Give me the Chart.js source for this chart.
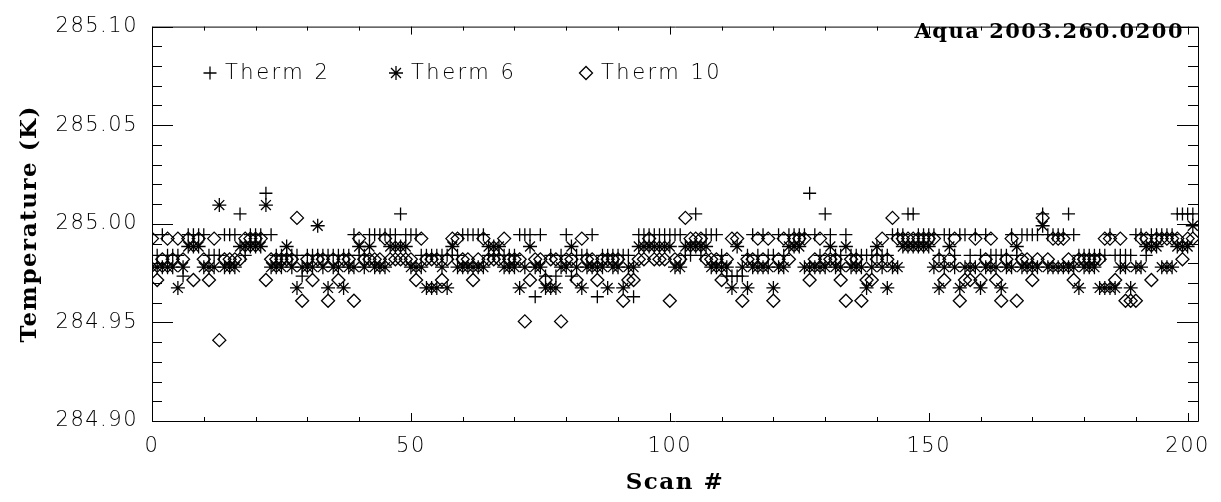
<!DOCTYPE html>
<html>
<head>
<meta charset="utf-8">
<script src="https://cdn.jsdelivr.net/npm/chart.js"></script>
<style>
  html, body { margin: 0; padding: 0; background: #fff; }
  #wrap { width: 1221px; height: 502px; position: relative; }
</style>
</head>
<body>
<div id="wrap"><canvas id="chart"></canvas></div>
<script>
// Thermistor readings (K), one value per scan, scan 0 .. 201
const therm2 = [
  284.9945, 284.984, 284.9945, 284.984, 284.984, 284.984, 284.9735, 284.9945, 284.9945, 284.9945,
  284.9945, 284.984, 284.984, 284.984, 284.9945, 284.9945, 284.9945, 285.005, 284.984, 284.9945,
  284.9945, 284.9945, 285.0155, 284.9945, 284.984, 284.984, 284.984, 284.984, 284.984, 284.9735,
  284.984, 284.984, 284.984, 284.984, 284.984, 284.984, 284.984, 284.984, 284.984, 284.9945,
  284.984, 284.984, 284.9945, 284.9945, 284.9945, 284.9945, 284.9945, 284.9945, 285.005, 284.9945,
  284.9945, 284.9945, 284.984, 284.984, 284.984, 284.984, 284.984, 284.984, 284.984, 284.984,
  284.9945, 284.9945, 284.9945, 284.9945, 284.9945, 284.984, 284.984, 284.984, 284.984, 284.984,
  284.984, 284.9945, 284.9945, 284.9945, 284.963, 284.9945, 284.9735, 284.984, 284.9735, 284.984,
  284.9945, 284.9735, 284.984, 284.984, 284.984, 284.9945, 284.963, 284.984, 284.984, 284.984,
  284.984, 284.984, 284.984, 284.963, 284.9945, 284.9945, 284.9945, 284.9945, 284.9945, 284.9945,
  284.9945, 284.9945, 284.9945, 284.984, 284.984, 285.005, 284.984, 284.9945, 284.9945, 284.9945,
  284.984, 284.9735, 284.9735, 284.9735, 284.9735, 284.984, 284.9945, 284.984, 284.9945, 284.984,
  284.984, 284.9945, 284.984, 284.9945, 284.9945, 284.9945, 284.9945, 285.0155, 284.9945, 284.984,
  285.005, 284.9945, 284.984, 284.984, 284.9945, 284.984, 284.984, 284.984, 284.984, 284.984,
  284.984, 284.984, 284.984, 284.9945, 284.9945, 284.9945, 285.005, 285.005, 284.9945, 284.9945,
  284.9945, 284.9945, 284.984, 284.9945, 284.9945, 284.984, 284.9945, 284.9945, 284.984, 284.9945,
  284.984, 284.9945, 284.984, 284.984, 284.984, 284.984, 284.9945, 284.984, 284.9945, 284.9945,
  284.9945, 284.9945, 285.005, 284.9945, 284.9945, 284.9945, 284.9945, 285.005, 284.9945, 284.984,
  284.984, 284.984, 284.984, 284.984, 284.984, 284.9945, 284.984, 284.984, 284.984, 284.984,
  284.9945, 284.9945, 284.984, 284.9945, 284.9945, 284.9945, 284.9945, 284.9945, 285.005, 285.005,
  285.005, 285.005
];
const therm6 = [
  284.978, 284.978, 284.978, 284.978, 284.978, 284.9675, 284.978, 284.9885, 284.9885, 284.9885,
  284.978, 284.978, 284.978, 285.0095, 284.978, 284.978, 284.978, 284.9885, 284.9885, 284.9885,
  284.9885, 284.9885, 285.0095, 284.978, 284.978, 284.978, 284.9885, 284.978, 284.9675, 284.978,
  284.978, 284.978, 284.999, 284.978, 284.9675, 284.978, 284.978, 284.9675, 284.978, 284.978,
  284.9885, 284.978, 284.9885, 284.978, 284.978, 284.978, 284.9885, 284.9885, 284.9885, 284.9885,
  284.978, 284.978, 284.978, 284.9675, 284.9675, 284.9675, 284.978, 284.9675, 284.9885, 284.978,
  284.978, 284.978, 284.978, 284.978, 284.978, 284.9885, 284.9885, 284.9885, 284.978, 284.978,
  284.978, 284.9675, 284.978, 284.9885, 284.978, 284.978, 284.9675, 284.9675, 284.9675, 284.978,
  284.978, 284.9885, 284.978, 284.9675, 284.978, 284.978, 284.978, 284.978, 284.9675, 284.978,
  284.978, 284.9675, 284.978, 284.978, 284.9885, 284.9885, 284.9885, 284.9885, 284.9885, 284.9885,
  284.9885, 284.978, 284.978, 284.9885, 284.9885, 284.9885, 284.9885, 284.9885, 284.978, 284.978,
  284.978, 284.978, 284.9675, 284.9885, 284.978, 284.9675, 284.978, 284.978, 284.978, 284.978,
  284.9675, 284.978, 284.978, 284.9885, 284.9885, 284.9885, 284.978, 284.978, 284.978, 284.978,
  284.978, 284.9885, 284.978, 284.978, 284.9885, 284.978, 284.978, 284.978, 284.9675, 284.978,
  284.9885, 284.978, 284.9675, 284.978, 284.978, 284.9885, 284.9885, 284.9885, 284.9885, 284.9885,
  284.9885, 284.978, 284.9675, 284.978, 284.9885, 284.978, 284.9675, 284.978, 284.978, 284.978,
  284.9675, 284.978, 284.978, 284.978, 284.9675, 284.978, 284.978, 284.9885, 284.978, 284.978,
  284.978, 284.978, 284.999, 284.978, 284.978, 284.978, 284.978, 284.978, 284.978, 284.9675,
  284.978, 284.978, 284.978, 284.9675, 284.9675, 284.9675, 284.9675, 284.978, 284.978, 284.9675,
  284.978, 284.978, 284.9885, 284.9885, 284.9885, 284.978, 284.978, 284.978, 284.9885, 284.9885,
  284.9885, 284.999
];
const therm10 = [
  284.9925, 284.9715, 284.982, 284.9925, 284.982, 284.9925, 284.982, 284.9925, 284.9715, 284.9925,
  284.982, 284.9715, 284.9925, 284.941, 284.982, 284.982, 284.982, 284.982, 284.9925, 284.9925,
  284.9925, 284.9925, 284.9715, 284.982, 284.982, 284.982, 284.982, 284.982, 285.003, 284.961,
  284.982, 284.9715, 284.982, 284.982, 284.961, 284.982, 284.9715, 284.982, 284.982, 284.961,
  284.9925, 284.982, 284.982, 284.982, 284.982, 284.9925, 284.982, 284.982, 284.982, 284.982,
  284.982, 284.9715, 284.9925, 284.982, 284.982, 284.982, 284.9715, 284.982, 284.9925, 284.9925,
  284.982, 284.982, 284.9715, 284.982, 284.9925, 284.982, 284.982, 284.982, 284.9925, 284.982,
  284.982, 284.982, 284.9505, 284.9715, 284.982, 284.982, 284.9715, 284.982, 284.982, 284.9505,
  284.982, 284.982, 284.9715, 284.9925, 284.982, 284.982, 284.9715, 284.982, 284.982, 284.982,
  284.982, 284.961, 284.9715, 284.9715, 284.982, 284.982, 284.9925, 284.982, 284.982, 284.982,
  284.961, 284.982, 284.982, 285.003, 284.9925, 284.9925, 284.9925, 284.982, 284.982, 284.982,
  284.9715, 284.982, 284.9925, 284.9925, 284.961, 284.982, 284.982, 284.9925, 284.982, 284.9925,
  284.961, 284.982, 284.9925, 284.982, 284.9925, 284.9925, 284.9925, 284.9715, 284.982, 284.9925,
  284.982, 284.982, 284.982, 284.9715, 284.961, 284.982, 284.982, 284.961, 284.9715, 284.9715,
  284.982, 284.9925, 284.982, 285.003, 284.9925, 284.9925, 284.9925, 284.9925, 284.9925, 284.9925,
  284.9925, 284.9925, 284.982, 284.9715, 284.982, 284.9925, 284.961, 284.9715, 284.9715, 284.9925,
  284.9715, 284.982, 284.9925, 284.9715, 284.961, 284.982, 284.9925, 284.961, 284.982, 284.982,
  284.9715, 284.982, 285.003, 284.982, 284.9925, 284.9925, 284.9925, 284.982, 284.9715, 284.982,
  284.982, 284.982, 284.982, 284.982, 284.9925, 284.9925, 284.9715, 284.9925, 284.961, 284.961,
  284.961, 284.9925, 284.9925, 284.9715, 284.9925, 284.9925, 284.9925, 284.9925, 284.9925, 284.982,
  284.9925, 284.9925
];
const seriesNames = ['Therm 2', 'Therm 6', 'Therm 10'];
const xTicks = [0, 50, 100, 150, 200];
const yTicks = [284.90, 284.95, 285.00, 285.05, 285.10];
const xMinor = 10;
const yMinor = 0.01;
const runLabel = 'Aqua 2003.260.0200';

const toPoints = arr => arr.map((t, i) => ({ x: i, y: t }));

const tickFont = { family: 'DejaVu Sans', size: 21, weight: '200' };
const titleFont = { family: 'DejaVu Serif', size: 23, weight: 'bold' };

const markers = [
  { style: 'cross', radius: 6.5 },
  { style: 'star', radius: 7 },
  { style: 'rectRot', radius: 6.5 }
];

// wider glyph spacing, closer to the Hershey fonts of the original
const spacing = {
  id: 'spacing',
  beforeDraw(chart) {
    if ('letterSpacing' in chart.ctx) chart.ctx.letterSpacing = '1.5px';
  }
};

// IDL-like frame: box, inward ticks on all four sides, legend, run label
const idlFrame = {
  id: 'idlFrame',
  afterDraw(chart) {
    const { ctx, chartArea: a, scales: { x, y } } = chart;
    ctx.save();
    ctx.strokeStyle = '#000';
    ctx.lineWidth = 1;
    ctx.beginPath();
    ctx.rect(a.left + 0.5, a.top + 0.5, a.right - a.left, a.bottom - a.top);
    ctx.stroke();

    ctx.beginPath();
    for (let k = 0; k * xMinor <= xTicks[xTicks.length - 1]; k++) {
      const v = k * xMinor;
      const px = Math.round(x.getPixelForValue(v)) + 0.5;
      const len = xTicks.includes(v) ? 8 : 4;
      ctx.moveTo(px, a.bottom);
      ctx.lineTo(px, a.bottom - len);
      ctx.moveTo(px, a.top);
      ctx.lineTo(px, a.top + len);
    }
    const nY = Math.round((yTicks[yTicks.length - 1] - yTicks[0]) / yMinor);
    for (let k = 0; k <= nY; k++) {
      const v = yTicks[0] + k * yMinor;
      const py = Math.round(y.getPixelForValue(v)) + 0.5;
      const len = k % 5 === 0 ? 21 : 10;
      ctx.moveTo(a.left, py);
      ctx.lineTo(a.left + len, py);
      ctx.moveTo(a.right, py);
      ctx.lineTo(a.right - len, py);
    }
    ctx.stroke();

    // legend
    const legendY = 73;
    const legendX = [210, 396, 586];
    ctx.font = '200 21px "DejaVu Sans"';
    ctx.textAlign = 'left';
    ctx.textBaseline = 'middle';
    if ('letterSpacing' in ctx) ctx.letterSpacing = '2.5px';
    chart.data.datasets.forEach((ds, i) => {
      const m = markers[i];
      ctx.fillStyle = 'rgba(0,0,0,0)';
      ctx.lineWidth = 1.3;
      Chart.helpers.drawPoint(ctx, {
        pointStyle: m.style, radius: m.radius, rotation: 0, borderWidth: 1.3
      }, legendX[i], legendY);
      ctx.fillStyle = '#000';
      ctx.fillText(ds.label, legendX[i] + 15, legendY + 1);
    });

    // run label
    if ('letterSpacing' in ctx) ctx.letterSpacing = '1.5px';
    ctx.font = 'bold 21px "DejaVu Serif"';
    ctx.textAlign = 'right';
    ctx.textBaseline = 'alphabetic';
    ctx.fillText(runLabel, a.right - 14, 38);
    ctx.restore();
  }
};

Chart.defaults.color = '#000';

new Chart(document.getElementById('chart'), {
  type: 'scatter',
  data: {
    datasets: [therm2, therm6, therm10].map((vals, i) => ({
      label: seriesNames[i],
      data: toPoints(vals),
      pointStyle: markers[i].style,
      pointRadius: markers[i].radius,
      pointHoverRadius: markers[i].radius,
      pointBorderWidth: 1.3,
      pointBorderColor: '#000',
      pointBackgroundColor: 'rgba(0,0,0,0)'
    }))
  },
  options: {
    responsive: true,
    maintainAspectRatio: false,
    animation: false,
    layout: { padding: { top: 10, right: 23, left: 0, bottom: 0 } },
    plugins: { legend: { display: false }, tooltip: { enabled: false } },
    scales: {
      x: {
        type: 'linear',
        min: 0,
        max: 202,
        grid: { display: false, drawTicks: false },
        border: { display: false },
        afterBuildTicks: s => { s.ticks = xTicks.map(v => ({ value: v })); },
        afterFit: s => { s.height = 81; },
        ticks: { font: tickFont, color: '#000', padding: 13, maxRotation: 0, autoSkip: false },
        title: { display: true, text: 'Scan #', font: titleFont, color: '#000', padding: { top: 0, bottom: 5 } }
      },
      y: {
        min: 284.90,
        max: 285.10,
        grid: { display: false, drawTicks: false },
        border: { display: false },
        afterBuildTicks: s => { s.ticks = yTicks.map(v => ({ value: v })); },
        afterFit: s => { s.width = 152; },
        ticks: { font: tickFont, color: '#000', padding: 14, callback: v => v.toFixed(2) },
        title: { display: true, text: 'Temperature (K)', font: titleFont, color: '#000', padding: { top: 16, bottom: 0 } }
      }
    }
  },
  plugins: [spacing, idlFrame]
});
</script>
</body>
</html>
